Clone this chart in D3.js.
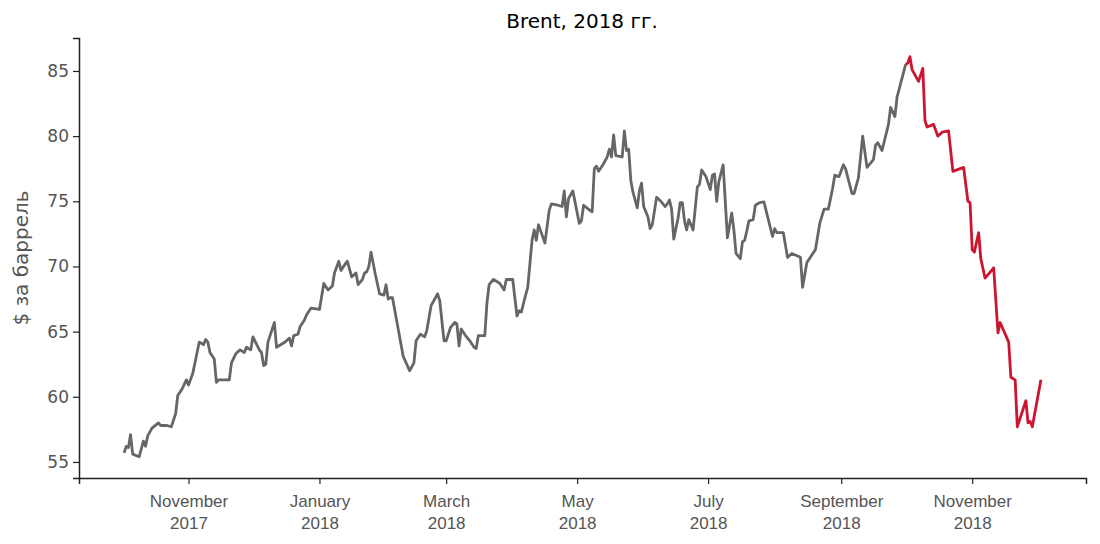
<!DOCTYPE html>
<html><head><meta charset="utf-8">
<script src="https://cdn.jsdelivr.net/npm/d3@7"></script>
<style>body{margin:0;background:#fff;font-family:"DejaVu Sans",sans-serif}</style>
</head><body><svg id="c" width="1100" height="544"></svg>
<script>
// days since 2017-11-01
const days = [-30,-29,-28,-27,-26,-23,-21,-20,-19,-17,-14,-13,-10,-8,-6,-5,-3,-1,0,2,5,7,8,9,10,12,13,14,15,19,20,22,24,26,27,29,30,33,34,35,36,37,40,41,45,47,48,49,51,52,54,55,57,61,62,63,65,67,68,70,71,73,74,76,78,79,81,82,83,84,85,87,89,91,92,93,94,95,97,100,103,105,106,108,110,111,113,115,116,117,119,120,122,124,125,126,127,129,131,133,134,135,138,139,140,142,143,145,147,148,151,153,154,155,157,158,160,161,162,163,166,168,169,172,174,175,176,177,178,179,182,183,184,187,188,189,190,191,193,195,196,197,198,199,202,203,204,205,206,207,209,210,211,212,214,215,216,218,220,222,223,224,225,226,228,229,230,231,232,233,234,235,237,238,239,241,243,244,245,246,247,249,251,253,254,255,257,258,259,260,261,263,264,266,268,272,273,274,277,279,281,285,286,288,292,294,296,298,300,301,303,305,306,309,310,312,314,316,319,320,321,323,326,327,329,330,334,335,336,337,340,342,343,344,347,349,351,354,356,361,363,364,365,366,368,369,371,375,377,378,382,383,385,386,390,391,392,393,397];
const prices = [55.7,56.2,56.1,57.1,55.6,55.4,56.6,56.2,57.0,57.6,58.0,57.8,57.8,57.7,58.7,60.1,60.6,61.3,60.9,61.8,64.2,64.0,64.4,64.2,63.4,62.9,61.1,61.3,61.3,61.3,62.6,63.3,63.6,63.4,63.8,63.6,64.6,63.6,63.4,62.4,62.5,64.2,65.7,63.8,64.2,64.5,63.9,64.7,64.8,65.4,65.9,66.3,66.8,66.7,67.7,68.7,68.2,68.5,69.5,70.4,69.7,70.2,70.4,69.2,69.5,68.6,69.0,69.5,69.6,70.0,71.1,69.4,67.9,67.8,68.6,67.5,67.6,67.6,65.8,63.1,62.0,62.6,64.3,64.8,64.6,65.1,67.0,67.6,67.9,67.4,64.3,64.3,65.3,65.7,65.6,63.9,65.2,64.7,64.3,63.8,63.7,64.7,64.7,67.2,68.6,69.0,68.9,68.7,68.2,69.0,69.0,66.2,66.6,66.5,67.8,68.4,72.0,72.8,72.0,73.2,71.8,74.3,74.8,74.7,74.6,75.8,73.8,75.2,75.5,75.8,73.3,73.5,74.7,74.3,74.2,77.5,77.7,77.3,77.8,78.4,79.0,78.4,80.1,78.5,78.4,80.4,78.9,79.0,76.6,75.7,74.5,75.8,76.4,74.6,73.8,72.9,73.2,75.3,75.0,74.6,74.8,75.1,74.4,72.1,73.7,74.9,74.9,73.5,72.8,73.6,73.2,72.8,76.1,76.3,77.4,76.9,75.9,77.0,77.1,75.0,76.5,77.8,72.2,74.1,72.8,71.0,70.6,71.9,72.0,72.7,73.5,73.6,74.7,74.9,74.95,72.3,72.9,72.6,72.6,70.7,71.0,70.7,68.4,70.3,71.3,73.3,74.4,74.4,76.0,77.0,76.9,77.8,77.5,75.6,75.6,76.8,80.0,77.6,78.2,79.3,79.5,78.9,80.9,82.2,81.5,83.0,85.5,85.6,86.1,85.1,84.2,85.2,81.2,80.7,80.9,80.0,80.3,80.4,77.3,77.6,75.0,74.9,71.3,71.1,72.6,70.6,69.1,69.9,64.9,65.7,64.2,61.5,61.3,57.7,59.7,58.0,58.1,57.7,61.3];
const redStartDay = 334;
const yTicks = [55,60,65,70,75,80,85];
const xTickDates = ["2017-11-01","2018-01-01","2018-03-01","2018-05-01","2018-07-01","2018-09-01","2018-11-01"];
const monthsRu = ["January","February","March","April","May","June","July","August","September","October","November","December"];

const base = new Date(2017,10,1);
const data = days.map((d,i)=>({date:d3.timeDay.offset(base,d), v:prices[i], day:d}));
const svg = d3.select("#c");
const L=79,R=1086,T=38,B=478;
const x = d3.scaleTime().domain([d3.timeDay.offset(base,-50.7), d3.timeDay.offset(base,418)]).range([L,R]);
const y = d3.scaleLinear().domain([53.77,87.53]).range([B,T]);
const line = d3.line().x(d=>x(d.date)).y(d=>y(d.v));

const xa = svg.append("g").attr("transform",`translate(0,${B})`)
  .call(d3.axisBottom(x).tickValues(xTickDates.map(s=>d3.timeParse("%Y-%m-%d")(s))).tickSize(6).tickFormat(""));
xa.selectAll(".tick").each(function(d){
  const t=d3.select(this).append("text").attr("fill","#555").attr("font-size",17).attr("text-anchor","middle");
  t.append("tspan").attr("x",0).attr("y",29).text(monthsRu[d.getMonth()]);
  t.append("tspan").attr("x",0).attr("y",51).text(d.getFullYear());
});
const ya = svg.append("g").attr("transform",`translate(${L},0)`)
  .call(d3.axisLeft(y).tickValues(yTicks).tickSize(6));
ya.selectAll("text").attr("font-size",17).attr("fill","#555").attr("font-family","DejaVu Sans").attr("x",-10);
svg.selectAll(".domain").attr("stroke","#222").attr("stroke-width",1.5);
svg.selectAll(".tick line").attr("stroke","#222").attr("stroke-width",1.2);

const grey = data.filter(d=>d.day<=redStartDay), red = data.filter(d=>d.day>=redStartDay);
svg.append("path").datum(grey).attr("d",line).attr("fill","none").attr("stroke","#666").attr("stroke-width",2.8).attr("stroke-linejoin","round");
svg.append("path").datum(red).attr("d",line).attr("fill","none").attr("stroke","#cc1530").attr("stroke-width",2.8).attr("stroke-linejoin","round");

svg.append("text").attr("x",582).attr("y",28).attr("text-anchor","middle").attr("font-size",20).attr("fill","#000").text("Brent, 2018 гг.");
svg.append("text").attr("transform","translate(28,258) rotate(-90)").attr("text-anchor","middle").attr("font-size",20).attr("fill","#555").text("$ за баррель");
</script></body></html>
